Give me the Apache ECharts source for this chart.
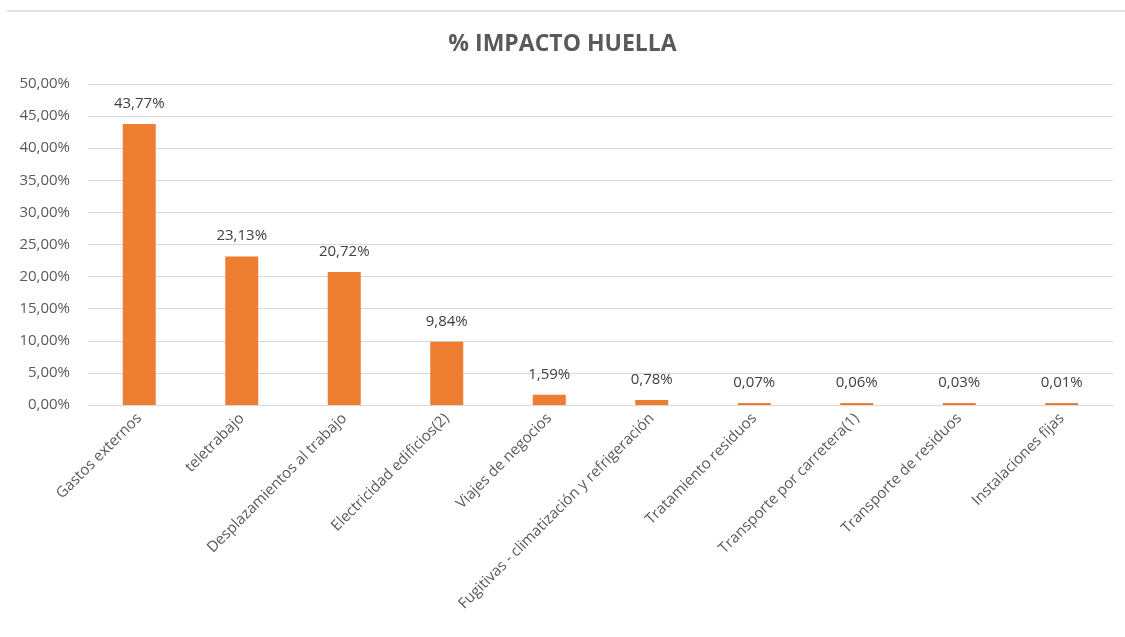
<!DOCTYPE html>
<html><head><meta charset="utf-8">
<script src="https://cdn.jsdelivr.net/npm/echarts@6/dist/echarts.min.js"></script>
<style>html,body{margin:0;padding:0;background:#fff}#c{width:1125px;height:637px}</style>
</head><body><div id="c"></div>
<script>
const categories = ["Gastos externos","teletrabajo","Desplazamientos al trabajo","Electricidad edificios(2)","Viajes de negocios","Fugitivas - climatización y refrigeración","Tratamiento residuos","Transporte por carretera(1)","Transporte de residuos","Instalaciones fijas"];
const values = [43.77, 23.13, 20.72, 9.84, 1.59, 0.78, 0.07, 0.06, 0.03, 0.01];
const title = "% IMPACTO HUELLA";
const fmt = v => v.toFixed(2).replace('.', ',') + '%';
const chart = echarts.init(document.getElementById('c'));
chart.setOption({
  animation: false,
  textStyle: {fontFamily: 'Open Sans'},
  title: {text: title, left: 'center', top: 28, textStyle: {fontSize: 23, fontWeight: 'bold', color: '#595959', fontFamily: 'Open Sans'}},
  grid: {left: 88, right: 12, top: 84, bottom: 232},
  graphic: [{type: 'line', shape: {x1: 7, y1: 11, x2: 1125, y2: 11}, style: {stroke: '#d9d9d9', lineWidth: 1.5}}],
  xAxis: {type: 'category', data: categories,
    axisLine: {lineStyle: {color: '#d9d9d9'}}, axisTick: {show: false},
    axisLabel: {rotate: 45, interval: 0, color: '#595959', fontSize: 15, margin: 11}},
  yAxis: {type: 'value', min: 0, max: 50, interval: 5,
    axisLabel: {formatter: v => fmt(v), color: '#595959', fontSize: 15, margin: 18},
    splitLine: {lineStyle: {color: '#d9d9d9'}}, axisLine: {show: false}, axisTick: {show: false}},
  series: [{type: 'bar', data: values, barWidth: 33, barMinHeight: 2,
    itemStyle: {color: '#ED7D31'},
    label: {show: true, position: 'top', distance: 13, formatter: p => fmt(p.value), color: '#404040', fontSize: 15}}]
});
</script></body></html>
